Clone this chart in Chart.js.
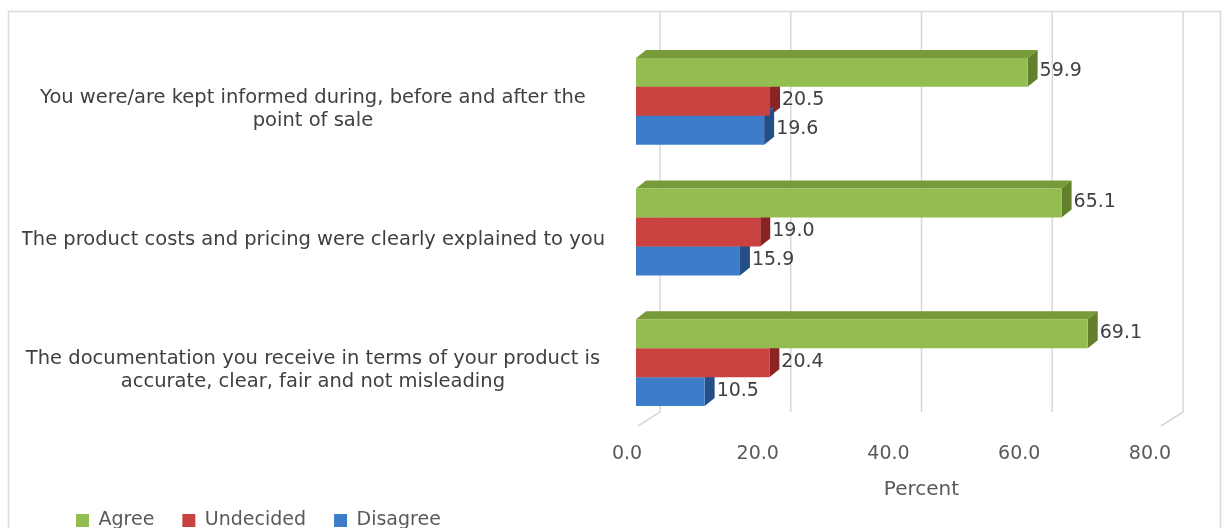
<!DOCTYPE html>
<html>
<head>
    <meta charset="utf-8">
    <title>Point of sale survey</title>
    <script src="https://cdn.jsdelivr.net/npm/chart.js"></script>
    <style>
        html, body { margin: 0; padding: 0; background: #fff; overflow: hidden; }
        .chart-box { position: relative; width: 1223px; height: 545px; }
    </style>
</head>
<body>
    <div class="chart-box">
        <canvas id="barChart"></canvas>
    </div>

    <script>
        const categories = [
            ['You were/are kept informed during, before and after the', 'point of sale'],
            'The product costs and pricing were clearly explained to you',
            ['The documentation you receive in terms of your product is', 'accurate, clear, fair and not misleading']
        ];
        const agree = [59.9, 65.1, 69.1];
        const undecided = [20.5, 19.0, 20.4];
        const disagree = [19.6, 15.9, 10.5];
        const xTicks = [0, 20, 40, 60, 80];

        // front, top and side colour of each series
        const shades = [
            ['#93bd50', '#779b39', '#62802c'],
            ['#c9423f', '#a83230', '#8a2422'],
            ['#3d7cc9', '#2f64a6', '#234f86']
        ];
        const DX = 10, DY = 8; // depth of the bars

        Chart.defaults.font.family = '"DejaVu Sans", sans-serif';

        const depthPlugin = {
            id: 'depth',
            afterLayout(chart) {
                // legend starts further in, axis title sits lower and centred on the back wall
                chart.legend.left += 26;
                const x = chart.scales.x;
                x.bottom += 19;
                x.left += 24;
                x.right += 24;
            },
            beforeDatasetsDraw(chart) {
                const ctx = chart.ctx;
                const x = chart.scales.x;
                const area = chart.chartArea;
                ctx.save();
                // frame round the chart
                ctx.strokeStyle = '#d9d9d9';
                ctx.lineWidth = 1.5;
                ctx.strokeRect(8.5, 11.5, 1212, 600);

                // back wall gridlines
                ctx.strokeStyle = '#d5d8dd';
                ctx.lineWidth = 1.5;
                xTicks.forEach(v => {
                    const px = x.getPixelForValue(v) + 24;
                    ctx.beginPath();
                    ctx.moveTo(px, 12);
                    ctx.lineTo(px, area.bottom - 16);
                    if (v === xTicks[0] || v === xTicks[xTicks.length - 1]) {
                        ctx.lineTo(px - 22, area.bottom - 2);
                    }
                    ctx.stroke();
                });

                // top and side faces
                chart.data.datasets.forEach((ds, di) => {
                    chart.getDatasetMeta(di).data.forEach(bar => {
                        const p = bar.getProps(['x', 'y', 'base', 'height'], true);
                        const top = p.y - p.height / 2;
                        const bottom = p.y + p.height / 2;
                        ctx.fillStyle = shades[di][1];
                        ctx.beginPath();
                        ctx.moveTo(p.base, top);
                        ctx.lineTo(p.base + DX, top - DY);
                        ctx.lineTo(p.x + DX, top - DY);
                        ctx.lineTo(p.x, top);
                        ctx.closePath();
                        ctx.fill();
                        ctx.fillStyle = shades[di][2];
                        ctx.beginPath();
                        ctx.moveTo(p.x, top);
                        ctx.lineTo(p.x + DX, top - DY);
                        ctx.lineTo(p.x + DX, bottom - DY);
                        ctx.lineTo(p.x, bottom);
                        ctx.closePath();
                        ctx.fill();
                    });
                });
                ctx.restore();
            },
            afterDatasetsDraw(chart) {
                const ctx = chart.ctx;
                ctx.save();
                ctx.font = '19px "DejaVu Sans", sans-serif';
                ctx.fillStyle = '#404040';
                ctx.textAlign = 'left';
                ctx.textBaseline = 'middle';
                chart.data.datasets.forEach((ds, di) => {
                    chart.getDatasetMeta(di).data.forEach((bar, i) => {
                        ctx.fillText(ds.data[i].toFixed(1), bar.x + DX + 2, bar.y - 1);
                    });
                });
                ctx.restore();
            }
        };

        const ctx = document.getElementById('barChart').getContext('2d');
        new Chart(ctx, {
            type: 'bar',
            data: {
                labels: categories,
                datasets: [
                    { label: 'Agree', data: agree, backgroundColor: shades[0][0] },
                    { label: 'Undecided', data: undecided, backgroundColor: shades[1][0] },
                    { label: 'Disagree', data: disagree, backgroundColor: shades[2][0] }
                ]
            },
            options: {
                indexAxis: 'y',
                responsive: true,
                maintainAspectRatio: false,
                animation: false,
                layout: { padding: { top: 36, left: 22, right: 64, bottom: 5 } },
                datasets: { bar: { categoryPercentage: 0.664, barPercentage: 1, clip: false } },
                scales: {
                    x: {
                        min: 0,
                        max: 80,
                        grid: { display: false, drawTicks: false },
                        border: { display: false },
                        ticks: {
                            stepSize: 20,
                            padding: 15,
                            labelOffset: -9,
                            color: '#595959',
                            font: { size: 19 },
                            callback: v => Number(v).toFixed(1)
                        },
                        title: { display: true, text: 'Percent', color: '#595959', font: { size: 20 }, padding: 0 },
                        afterFit: s => { s.height = 55; }
                    },
                    y: {
                        grid: { display: false, drawTicks: false },
                        border: { display: false },
                        ticks: { crossAlign: 'center', padding: 31, labelOffset: 8, color: '#404040', font: { size: 19.5 } },
                        afterFit: s => {
                            s.width = 614;
                            s.paddingTop = 0;
                            s.paddingBottom = 0;
                        }
                    }
                },
                plugins: {
                    legend: {
                        position: 'bottom',
                        align: 'start',
                        labels: { boxWidth: 13, boxHeight: 13, padding: 28, color: '#595959', font: { size: 19 } }
                    },
                    tooltip: { enabled: false }
                }
            },
            plugins: [depthPlugin]
        });
    </script>
</body>
</html>
